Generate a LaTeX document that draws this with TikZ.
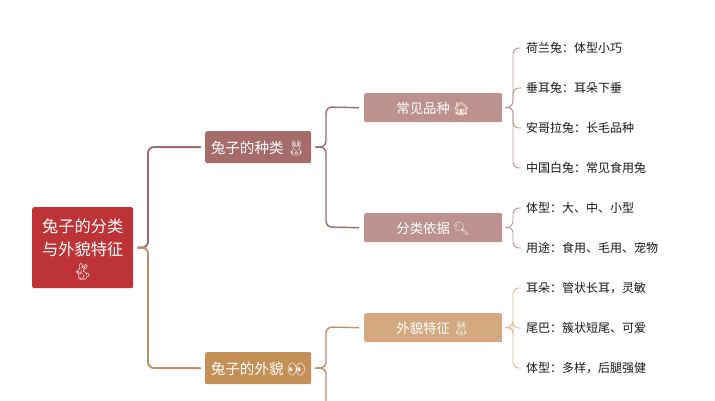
\documentclass[tikz,border=0pt]{standalone}
\usepackage{fontspec}
\usetikzlibrary{calc}
\setmainfont{Noto Sans CJK SC}
\newfontfamily\emo{Noto Emoji}
\definecolor{rootc}{HTML}{BE3436}
\definecolor{aone}{HTML}{A66B6B}
\definecolor{bone}{HTML}{C49058}
\definecolor{atwo}{HTML}{BC918E}
\definecolor{btwo}{HTML}{D4A97F}
\definecolor{alink}{HTML}{9E6A6E}
\definecolor{blink}{HTML}{BC9064}
\definecolor{aleaf}{HTML}{B79B98}
\definecolor{bleaf}{HTML}{D8BC98}
\newcommand{\emj}[2]{{\emo\color{#1}#2}}
\newcommand{\dn}[2][-1pt]{\raisebox{#1}[\height][\depth]{#2}}
\tikzset{
  x=1pt,y=-1pt,
  boxbase/.style={rounded corners=2pt,inner sep=0pt,text=white,align=center,anchor=north west},
  rootbox/.style={boxbase,fill=rootc,minimum width=101pt,minimum height=81pt,font=\fontsize{16.2}{22.5}\selectfont},
  mainbox/.style={boxbase,minimum width=106pt,minimum height=32pt,font=\fontsize{14.6}{18}\selectfont},
  subbox/.style={boxbase,minimum width=138pt,minimum height=29pt,font=\fontsize{13.4}{16}\selectfont},
  leaf/.style={anchor=west,inner sep=0pt,text=black!90,font=\fontsize{12}{14}\selectfont},
  conn/.style={line width=1.9pt,rounded corners=6pt},
  subconn/.style={line width=1.4pt,rounded corners=6pt},
  leafconn/.style={line width=0.9pt,rounded corners=6pt}
}
\begin{document}
\begin{tikzpicture}
\useasboundingbox[fill=white] (0,0) rectangle (715,400);
\clip (0,0) rectangle (715,400);
\node[rootbox] (root) at (32,207) {\dn[-3pt]{\begin{tabular}{@{}c@{}}兔子的分类\\与外貌特征\\\emj{white}{🐇}\end{tabular}}};
\node[mainbox,fill=aone] (kinds) at (205,131) {\dn{兔子的种类 \emj{white!85!gray}{🐰}}};
\node[mainbox,fill=bone] (looks) at (205,352) {\dn{兔子的外貌 \emj{white}{👀}}};
\node[subbox,fill=atwo] (breeds) at (364,93) {\dn{常见品种 \emj{white!85!orange}{🏠}}};
\node[subbox,fill=atwo] (basis) at (364,213) {\dn{分类依据 \emj{white!90!gray}{🔍}}};
\node[subbox,fill=btwo] (feat) at (364,313) {\dn{外貌特征 \emj{white!90!gray}{🐰}}};
\node[leaf] (l1) at (526,48) {荷兰兔：体型小巧};
\node[leaf] (l2) at (526,88) {垂耳兔：耳朵下垂};
\node[leaf] (l3) at (526,128) {安哥拉兔：长毛品种};
\node[leaf] (l4) at (526,168) {中国白兔：常见食用兔};
\node[leaf] (l5) at (526,208) {体型：大、中、小型};
\node[leaf] (l6) at (526,248) {用途：食用、毛用、宠物};
\node[leaf] (l7) at (526,288) {耳朵：管状长耳，灵敏};
\node[leaf] (l8) at (526,328) {尾巴：簇状短尾、可爱};
\node[leaf] (l9) at (526,368) {体型：多样，后腿强健};
\coordinate (off) at (326,410);
% root
\draw[conn,alink] ([xshift=4pt]root.east) -- (148,247.5) -- (148,147) -- ([xshift=-4pt]kinds.west);
\draw[conn,blink] ([xshift=4pt]root.east) -- (148,247.5) -- (148,368) -- ([xshift=-4pt]looks.west);
% kinds
\draw[subconn,alink] ([xshift=4pt]kinds.east) -- (326,147) -- (326,107) -- ([xshift=-5pt]breeds.west);
\draw[subconn,alink] ([xshift=4pt]kinds.east) -- (326,147) -- (326,227) -- ([xshift=-5pt]basis.west);
% looks
\draw[subconn,blink] ([xshift=4pt]looks.east) -- (326,368) -- (326,327) -- ([xshift=-5pt]feat.west);
\draw[subconn,blink] ([xshift=4pt]looks.east) -- (326,368) -- (off);
% leaves
\foreach \t in {l1,l2,l3,l4}
  \draw[leafconn,aleaf] ([xshift=3pt]breeds.east) -- (513,107) -- (513,107 |- \t.west) -- ([xshift=-5pt]\t.west);
\foreach \t in {l5,l6}
  \draw[leafconn,aleaf] ([xshift=3pt]basis.east) -- (513,227) -- (513,227 |- \t.west) -- ([xshift=-5pt]\t.west);
\foreach \t in {l7,l8,l9}
  \draw[leafconn,bleaf] ([xshift=3pt]feat.east) -- (513,327) -- (513,327 |- \t.west) -- ([xshift=-5pt]\t.west);
\end{tikzpicture}
\end{document}
